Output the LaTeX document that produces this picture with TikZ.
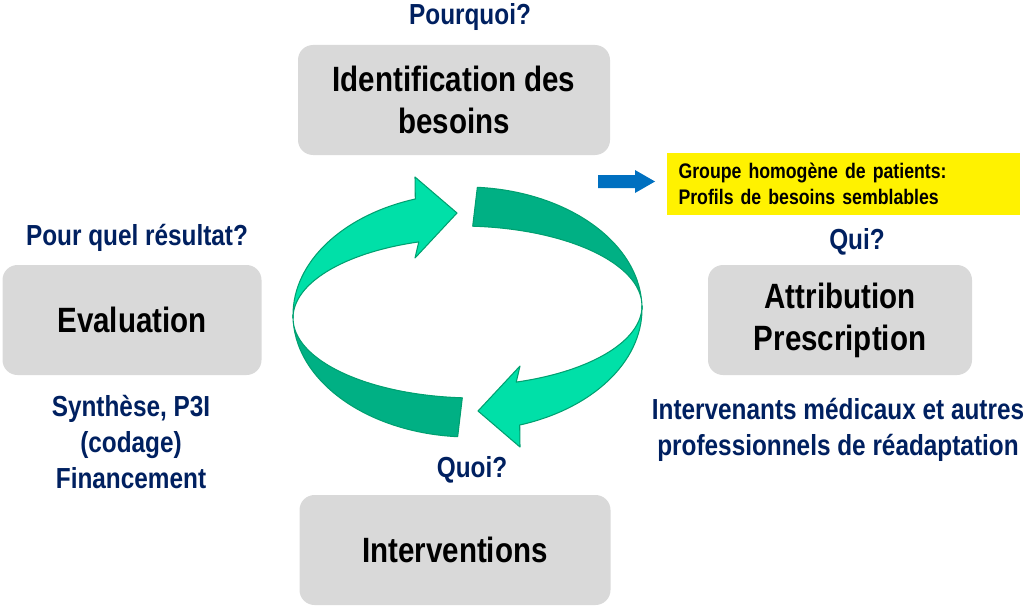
\documentclass[tikz,border=0pt]{standalone}
\usepackage{fontspec}
\setmainfont[FakeStretch=0.84]{Liberation Sans}
\usetikzlibrary{positioning,calc}
\definecolor{navy}{HTML}{002060}
\definecolor{boxgray}{HTML}{D9D9D9}
\definecolor{ringlight}{HTML}{00E0A8}
\definecolor{ringdark}{HTML}{00B084}
\definecolor{ringedge}{HTML}{00A070}
\definecolor{arrowblue}{HTML}{0070C0}

\begin{document}
\begin{tikzpicture}[
			stage/.style={rectangle, fill=boxgray, rounded corners=0.3cm, align=center,
				font=\bfseries\fontsize{20}{24}\selectfont, inner sep=0pt},
			question/.style={text=navy, font=\bfseries\fontsize{16.5}{19}\selectfont, align=center},
			detail/.style={text=navy, font=\bfseries\fontsize{16.5}{20.3}\selectfont, align=center},
			ring/.style={draw=ringedge, line width=0.6pt, line join=round}]
			\useasboundingbox (0,0) rectangle (20.64,12.2);
			
			% Stages
			\node[stage, minimum width=6.24cm, minimum height=2.2cm] (ident) at (9.08,10.2) {Identification des\\besoins};
			\node[stage, minimum width=5.18cm, minimum height=2.2cm] (eval) at (2.64,5.8) {Evaluation};
			\node[stage, minimum width=5.28cm, minimum height=2.2cm] (attr) at (16.8,5.8) {Attribution\\Prescription};
			\node[stage, minimum width=6.22cm, minimum height=2.2cm] (interv) at (9.1,1.2) {Interventions};
			
			% Questions
			\node[question] (why) at (9.4,11.86) {Pourquoi?};
			\node[question] (result) at (2.74,7.44) {Pour quel résultat?};
			\node[question] (who) at (17.14,7.36) {Qui?};
			\node[question] (what) at (9.44,2.8) {Quoi?};
			
			% Details
			\node[detail] (evaldet) at (2.62,3.36) {Synthèse, P3I\\(codage)\\Financement};
			\node[detail] (attrdet) at (16.76,3.6) {Intervenants médicaux et autres\\professionnels de réadaptation};
			\node[fill=yellow, minimum width=7.06cm, minimum height=1.24cm, text width=6.6cm,
				align=left, font=\bfseries\fontsize{12}{14.5}\selectfont] (group) at (16.87,8.52)
				{Groupe homogène de patients:\\Profils de besoins semblables};
			\fill[arrowblue] (11.96,8.44) -- (12.7,8.44) -- (12.7,8.34) -- (13.1,8.57)
				-- (12.7,8.80) -- (12.7,8.70) -- (11.96,8.70) -- cycle;
			
			% Cycle
			\foreach \turn in {0,180} {
				\begin{scope}[shift={(9.35,5.96)}, rotate=\turn]
					\filldraw[ring, fill=ringlight]
						($(0.05,-0.06)+(108:3.54 and 2.44)$) arc[start angle=108, end angle=180, x radius=3.54, y radius=2.44]
						-- ($(0.15,-0.12)+(180:3.64 and 1.6)$) arc[start angle=180, end angle=108, x radius=3.64, y radius=1.6]
						-- (-1.05,1.08) -- (-0.21,1.98) -- (-1.05,2.70) -- cycle;
					\filldraw[ring, fill=ringdark]
						($(0.05,-0.06)+(180:3.54 and 2.44)$) arc[start angle=180, end angle=266, x radius=3.54, y radius=2.44]
						-- ($(0.15,-0.12)+(266:3.64 and 1.6)$) arc[start angle=266, end angle=180, x radius=3.64, y radius=1.6]
						-- cycle;
				\end{scope}
			}
		\end{tikzpicture}
\end{document}
